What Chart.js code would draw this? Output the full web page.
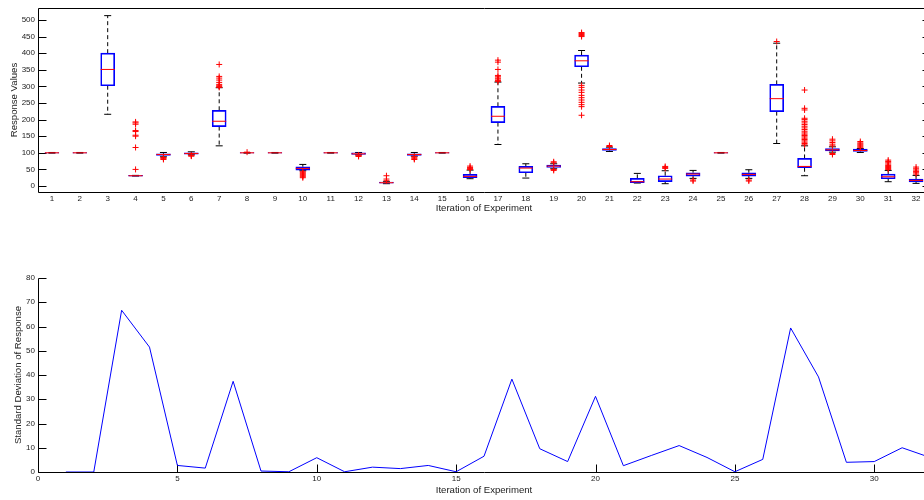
<!DOCTYPE html>
<html lang="en">
<head>
    <meta charset="UTF-8">
    <title>Response Values by Iteration of Experiment</title>
    <script src="https://cdn.jsdelivr.net/npm/chart.js"></script>
    <style>
        html, body { margin: 0; padding: 0; background: #fff; width: 924px; height: 500px; overflow: hidden; }
        canvas { position: absolute; left: 0; }
        #boxChart { top: 0; }
        #sdChart { top: 250px; }
    </style>
</head>
<body>
    <canvas id="boxChart" width="960" height="222"></canvas>
    <canvas id="sdChart" width="960" height="250"></canvas>

    <script>
        // Box plot statistics per iteration
        const iterations  = [1, 2, 3, 4, 5, 6, 7, 8, 9, 10, 11, 12, 13, 14, 15, 16, 17, 18, 19, 20, 21, 22, 23, 24, 25, 26, 27, 28, 29, 30, 31, 32];
        const q1          = [99, 99, 302, 30, 92, 96, 179, 99, 99, 48, 99, 95, 8.5, 92, 99, 25, 191, 40, 56, 359, 107, 10, 13, 30, 99, 30, 224, 55, 106, 104, 22, 12];
        const medians     = [100, 100, 351, 31, 95, 98, 195, 100, 100, 53, 100, 97, 10, 95, 100, 29, 210, 54, 60, 377, 110, 13, 21, 36, 100, 35, 263, 59, 109, 107, 28, 17];
        const q3          = [101, 101, 400, 32, 97, 100, 228, 101, 101, 58, 101, 100, 12, 97, 101, 35, 240, 59, 63, 394, 113, 23, 31, 40, 101, 40, 306, 83, 113, 111, 36, 21];
        const whiskerLow  = [99, 99, 216, 30, 88, 94, 121, 99, 99, 46, 99, 94, 7, 90, 99, 22, 125, 24, 52, 310, 104, 9, 7, 23, 99, 23, 128, 31, 102, 101, 13, 8];
        const whiskerHigh = [101, 101, 513, 32, 101, 103, 296, 101, 101, 65, 101, 101, 13, 101, 101, 48, 313, 67, 67, 408, 117, 38, 46, 47, 101, 49, 430, 121, 118, 113, 47, 32];
        const outliers = [
            [], [], [],
            [50, 116, 150, 153, 164, 167, 186, 190, 193],
            [86, 84, 82, 80],
            [93, 91, 90],
            [297, 300, 302, 306, 312, 319, 325, 330, 366],
            [102], [],
            [43, 40, 37, 34, 31, 28, 25],
            [],
            [93, 91, 89],
            [16, 21, 31],
            [88, 85, 82, 80],
            [],
            [50, 53, 56, 60],
            [315, 318, 322, 325, 329, 333, 351, 373, 379],
            [],
            [70, 73, 50, 47],
            [450, 453, 456, 459, 462, 303, 297, 289, 282, 273, 266, 259, 252, 245, 239, 213],
            [119, 122],
            [],
            [53, 56, 59],
            [15, 18],
            [],
            [15, 18],
            [435],
            [124, 128, 132, 136, 140, 144, 148, 152, 156, 160, 165, 170, 175, 180, 185, 190, 195, 200, 204, 229, 234, 289],
            [121, 126, 131, 136, 141, 98, 95],
            [115, 118, 121, 124, 127, 130, 134],
            [50, 53, 56, 59, 62, 66, 70, 74, 78],
            [36, 40, 44, 48, 52, 57]
        ];

        // Standard deviation of the response per iteration
        const stdDev = [0, 0, 66.7, 51.5, 2.7, 1.6, 37.4, 0.4, 0.1, 5.9, 0.1, 2.0, 1.4, 2.7, 0.1, 6.5, 38.3, 9.6, 4.3, 31.2, 2.6, 6.8, 10.9, 6.0, 0.1, 5.2, 59.4, 39.2, 4.0, 4.3, 10.0, 6.0];

        // Tick labels
        const responseTicks = [0, 50, 100, 150, 200, 250, 300, 350, 400, 450, 500];
        const sdTicks = [0, 10, 20, 30, 40, 50, 60, 70, 80];
        const iterationTicks = [0, 5, 10, 15, 20, 25, 30];

        const textColor = '#222';
        const family = "'Liberation Sans', Arial, Helvetica, sans-serif";
        const tickFont = { family: family, size: 8 };
        const titleFont = { family: family, size: 9.6 };

        // MATLAB-like axes: black frame lines and inward tick marks
        const axesDecor = {
            id: 'axesDecor',
            beforeDatasetsDraw(chart, args, opts) {
                const { ctx, chartArea: a, scales: { x, y } } = chart;
                const snap = v => Math.round(v) + 0.5;
                const L = snap(a.left), R = snap(a.right), T = snap(a.top), B = snap(a.bottom);
                const len = 8;
                ctx.save();
                ctx.strokeStyle = '#000';
                ctx.lineWidth = 1;
                ctx.beginPath();
                ctx.moveTo(L, T);
                ctx.lineTo(L, B);
                ctx.lineTo(R, B);
                if (opts.box) {
                    ctx.lineTo(R, T);
                    ctx.lineTo(L, T);
                }
                y.ticks.forEach(t => {
                    const py = snap(y.getPixelForValue(t.value));
                    ctx.moveTo(L, py);
                    ctx.lineTo(L + len, py);
                    if (opts.box) {
                        ctx.moveTo(R, py);
                        ctx.lineTo(R - len, py);
                    }
                });
                if (opts.xTicks) {
                    x.ticks.forEach(t => {
                        const px = snap(x.getPixelForValue(t.value));
                        ctx.moveTo(px, B);
                        ctx.lineTo(px, B - len);
                    });
                }
                ctx.stroke();
                ctx.restore();
            }
        };

        // Build box plot pieces from the arrays
        const boxData = iterations.map((c, i) => ({ x: c, y: [q1[i], q3[i]] }));
        const medianData = iterations.map((c, i) => ({ x: c, y: medians[i] }));
        const capData = iterations.flatMap((c, i) => [{ x: c, y: whiskerLow[i] }, { x: c, y: whiskerHigh[i] }]);
        const whiskerData = iterations.flatMap((c, i) => [
            { x: c, y: q3[i] }, { x: c, y: whiskerHigh[i] }, { x: c, y: null },
            { x: c, y: q1[i] }, { x: c, y: whiskerLow[i] }, { x: c, y: null }
        ]);
        const outlierData = iterations.flatMap((c, i) => outliers[i].map(v => ({ x: c, y: v })));

        new Chart(document.getElementById('boxChart'), {
            type: 'bar',
            data: {
                datasets: [
                    {
                        type: 'line',
                        data: whiskerData,
                        borderColor: '#000',
                        borderWidth: 1,
                        borderDash: [4, 3],
                        pointRadius: 0,
                        spanGaps: false,
                        order: 4
                    },
                    {
                        type: 'scatter',
                        data: capData,
                        pointStyle: 'line',
                        pointRadius: 3.5,
                        pointBorderColor: '#000',
                        pointBorderWidth: 1,
                        order: 3
                    },
                    {
                        type: 'bar',
                        data: boxData,
                        backgroundColor: 'rgba(0,0,0,0)',
                        borderColor: '#0000ff',
                        borderWidth: 1,
                        borderSkipped: false,
                        barThickness: 14,
                        order: 2
                    },
                    {
                        type: 'scatter',
                        data: medianData,
                        pointStyle: 'line',
                        pointRadius: 7,
                        pointBorderColor: '#ff0000',
                        pointBorderWidth: 1,
                        order: 1
                    },
                    {
                        type: 'scatter',
                        data: outlierData,
                        pointStyle: 'cross',
                        pointRadius: 3,
                        pointBorderColor: '#ff0000',
                        pointBorderWidth: 1,
                        order: 0
                    }
                ]
            },
            options: {
                responsive: false,
                animation: false,
                events: [],
                layout: { padding: { left: 0, right: 30, top: 8, bottom: 0 } },
                plugins: {
                    legend: { display: false },
                    tooltip: { enabled: false },
                    axesDecor: { box: true, xTicks: false }
                },
                scales: {
                    x: {
                        type: 'linear',
                        min: 0.5,
                        max: 32.5,
                        offset: false,
                        grid: { display: false, drawTicks: false, offset: false },
                        border: { display: false },
                        afterBuildTicks: s => { s.ticks = iterations.map(v => ({ value: v })); },
                        afterFit: s => { s.height = 30; },
                        ticks: { font: tickFont, color: textColor, padding: 2, autoSkip: false, maxRotation: 0 },
                        title: { display: true, text: 'Iteration of Experiment', font: titleFont, color: textColor, padding: { top: 0, bottom: 8 } }
                    },
                    y: {
                        type: 'linear',
                        min: -18,
                        max: 536,
                        grid: { display: false, drawTicks: false },
                        border: { display: false },
                        afterBuildTicks: s => { s.ticks = responseTicks.map(v => ({ value: v })); },
                        afterFit: s => { s.width = 38; },
                        ticks: { font: tickFont, color: textColor, padding: 3 },
                        title: { display: true, text: 'Response Values', font: titleFont, color: textColor, padding: { top: 9, bottom: 0 } }
                    }
                }
            },
            plugins: [axesDecor]
        });

        new Chart(document.getElementById('sdChart'), {
            type: 'line',
            data: {
                datasets: [{
                    data: iterations.map((c, i) => ({ x: c, y: stdDev[i] })),
                    borderColor: '#0000ff',
                    borderWidth: 1,
                    pointRadius: 0,
                    tension: 0
                }]
            },
            options: {
                responsive: false,
                animation: false,
                events: [],
                layout: { padding: { left: 0, right: 30, top: 28, bottom: 0 } },
                plugins: {
                    legend: { display: false },
                    tooltip: { enabled: false },
                    axesDecor: { box: false, xTicks: true }
                },
                scales: {
                    x: {
                        type: 'linear',
                        min: 0,
                        max: 32,
                        grid: { display: false, drawTicks: false },
                        border: { display: false },
                        afterBuildTicks: s => { s.ticks = iterationTicks.map(v => ({ value: v })); },
                        afterFit: s => { s.height = 28; },
                        ticks: { font: tickFont, color: textColor, padding: 2, maxRotation: 0 },
                        title: { display: true, text: 'Iteration of Experiment', font: titleFont, color: textColor, padding: { top: 0, bottom: 4 } }
                    },
                    y: {
                        type: 'linear',
                        min: 0,
                        max: 80,
                        grid: { display: false, drawTicks: false },
                        border: { display: false },
                        afterBuildTicks: s => { s.ticks = sdTicks.map(v => ({ value: v })); },
                        afterFit: s => { s.width = 38; },
                        ticks: { font: tickFont, color: textColor, padding: 3 },
                        title: { display: true, text: 'Standard Deviation of Response', font: titleFont, color: textColor, padding: { top: 13, bottom: 0 } }
                    }
                }
            },
            plugins: [axesDecor]
        });
    </script>
</body>
</html>
